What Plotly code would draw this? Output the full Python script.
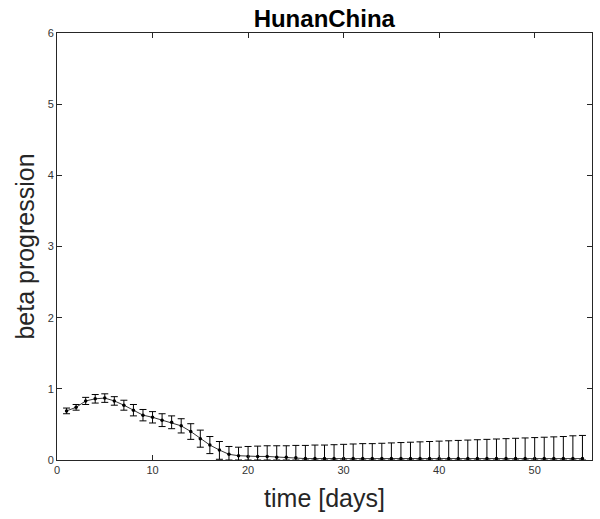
import plotly.graph_objects as go

days = list(range(1, 56))
beta = [0.69, 0.74, 0.83, 0.86, 0.87, 0.83, 0.77, 0.70, 0.63, 0.60,
        0.56, 0.53, 0.48, 0.40, 0.30, 0.21, 0.14, 0.08, 0.06, 0.05,
        0.05, 0.05, 0.04, 0.04, 0.03, 0.02, 0.02, 0.02, 0.02, 0.02,
        0.02, 0.02, 0.02, 0.02, 0.02, 0.02, 0.02, 0.02, 0.02, 0.02,
        0.02, 0.02, 0.02, 0.02, 0.02, 0.02, 0.02, 0.02, 0.02, 0.02,
        0.02, 0.02, 0.02, 0.02, 0.02]
upper = [0.73, 0.78, 0.88, 0.92, 0.93, 0.89, 0.84, 0.78, 0.71, 0.68,
         0.65, 0.62, 0.58, 0.51, 0.42, 0.33, 0.26, 0.19, 0.18, 0.19,
         0.195, 0.20, 0.20, 0.20, 0.205, 0.205, 0.21, 0.21, 0.215, 0.22,
         0.225, 0.23, 0.23, 0.235, 0.24, 0.245, 0.25, 0.255, 0.26, 0.265,
         0.27, 0.275, 0.28, 0.285, 0.29, 0.295, 0.30, 0.305, 0.31, 0.315,
         0.32, 0.325, 0.33, 0.34, 0.345]
lower = [0.65, 0.70, 0.78, 0.80, 0.81, 0.77, 0.70, 0.62, 0.55, 0.52,
         0.47, 0.44, 0.38, 0.29, 0.18, 0.09, 0.01, 0.0, 0.0, 0.0,
         0.0, 0.0, 0.0, 0.0, 0.0, 0.0, 0.0, 0.0, 0.0, 0.0,
         0.0, 0.0, 0.0, 0.0, 0.0, 0.0, 0.0, 0.0, 0.0, 0.0,
         0.0, 0.0, 0.0, 0.0, 0.0, 0.0, 0.0, 0.0, 0.0, 0.0,
         0.0, 0.0, 0.0, 0.0, 0.0]

err_plus = [u - b for u, b in zip(upper, beta)]
err_minus = [b - l for b, l in zip(beta, lower)]

fig = go.Figure()
fig.add_trace(go.Scatter(
    x=days, y=beta, mode="lines+markers",
    line=dict(color="black", width=0.8),
    marker=dict(color="black", size=3.5),
    error_y=dict(type="data", symmetric=False, array=err_plus,
                 arrayminus=err_minus, color="black", thickness=1, width=3.5),
    showlegend=False,
))

FONT = "Liberation Sans, Arial"
axis_common = dict(
    showline=True, linecolor="#262626", linewidth=1, mirror="ticks",
    ticks="inside", ticklen=5, tickcolor="#262626", showgrid=False,
    zeroline=False, tickfont=dict(family=FONT, size=11, color="#333333"),
)

fig.update_layout(
    width=600, height=519,
    margin=dict(l=57, r=8, t=33, b=59),
    paper_bgcolor="white", plot_bgcolor="white",
    title=dict(text="<b>HunanChina</b>", x=0.5405, xanchor="center", y=0.965, yanchor="middle",
               font=dict(family=FONT, size=24, color="black")),
    xaxis=dict(range=[0, 56], tickvals=[0, 10, 20, 30, 40, 50],
               title=dict(text="time [days]", font=dict(family=FONT, size=25, color="#262626"),
                          standoff=14),
               **axis_common),
    yaxis=dict(range=[0, 6], tickvals=[0, 1, 2, 3, 4, 5, 6],
               title=dict(text="beta progression", font=dict(family=FONT, size=25, color="#262626"),
                          standoff=5),
               **axis_common),
)

fig.write_html("out.html")
